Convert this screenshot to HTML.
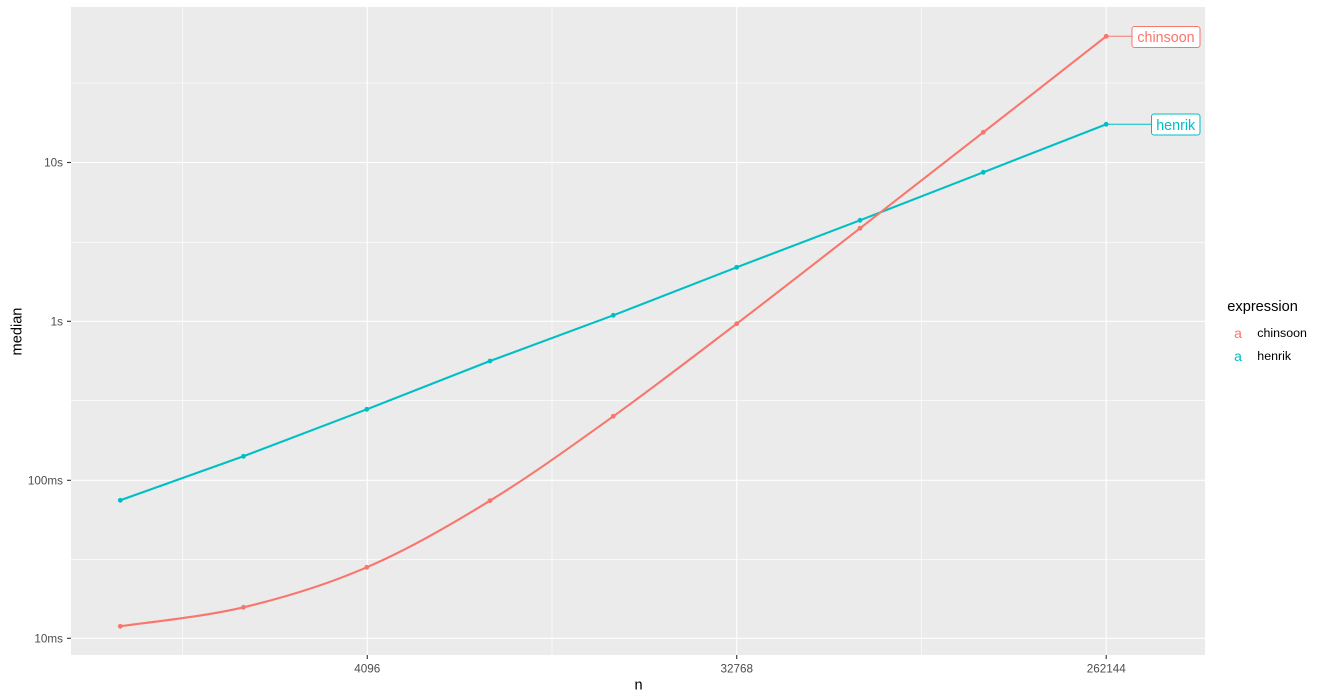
<!DOCTYPE html>
<html><head><meta charset="utf-8"><style>
html,body{margin:0;padding:0;background:#fff;}
svg{display:block;}
text{font-family:"Liberation Sans",Arial,sans-serif;}
</style></head><body>
<svg width="1323" height="700" viewBox="0 0 1323 700" xmlns="http://www.w3.org/2000/svg">
<rect x="0" y="0" width="1323" height="700" fill="#fff"/>
<!-- panel -->
<rect x="71" y="7" width="1134" height="648" fill="#EBEBEB"/>
<!-- minor grid -->
<g stroke="#fff" stroke-width="0.6">
<line x1="71" x2="1205" y1="83" y2="83"/>
<line x1="71" x2="1205" y1="242.3" y2="242.3"/>
<line x1="71" x2="1205" y1="400.3" y2="400.3"/>
<line x1="71" x2="1205" y1="559.3" y2="559.3"/>
<line x1="182.3" x2="182.3" y1="7" y2="655"/>
<line x1="552" x2="552" y1="7" y2="655"/>
<line x1="921.5" x2="921.5" y1="7" y2="655"/>
</g>
<!-- major grid -->
<g stroke="#fff" stroke-width="1.1">
<line x1="71" x2="1205" y1="162.5" y2="162.5"/>
<line x1="71" x2="1205" y1="321.3" y2="321.3"/>
<line x1="71" x2="1205" y1="480.3" y2="480.3"/>
<line x1="71" x2="1205" y1="638.3" y2="638.3"/>
<line x1="367.3" x2="367.3" y1="7" y2="655"/>
<line x1="736.7" x2="736.7" y1="7" y2="655"/>
<line x1="1106.2" x2="1106.2" y1="7" y2="655"/>
</g>
<!-- henrik -->
<polyline fill="none" stroke="#00BFC4" stroke-width="2.1" stroke-linejoin="round"
 points="120.3,500.3 243.5,456.3 366.8,409.3 490,361 613.3,315.3 736.7,267.3 860,220.3 983.3,172.3 1106.2,124.3"/>
<!-- chinsoon -->
<path fill="none" stroke="#F8766D" stroke-width="2.1" stroke-linejoin="round"
 d="M120.3,626.3 C140.8,623.1 202.4,617.1 243.5,607.3 C284.6,597.5 325.7,585.1 366.8,567.3 C407.9,549.5 448.9,525.9 490,500.7 C531.1,475.5 572.2,445.8 613.3,416.3 C654.4,386.8 695.6,355 736.7,323.7 C777.8,292.4 818.9,260.2 860,228.3 C901.1,196.4 942.2,164.3 983.3,132.3 C1024.4,100.3 1086,52.3 1106.2,36.3"/>
<!-- points -->
<g fill="#F8766D">
<circle cx="120.3" cy="626.3" r="2.4"/><circle cx="243.5" cy="607.3" r="2.4"/><circle cx="366.8" cy="567.3" r="2.4"/>
<circle cx="490" cy="500.7" r="2.4"/><circle cx="613.3" cy="416.3" r="2.4"/><circle cx="736.7" cy="323.7" r="2.4"/>
<circle cx="860" cy="228.3" r="2.4"/><circle cx="983.3" cy="132.3" r="2.4"/><circle cx="1106.2" cy="36.3" r="2.4"/>
</g>
<g fill="#00BFC4">
<circle cx="120.3" cy="500.3" r="2.4"/><circle cx="243.5" cy="456.3" r="2.4"/><circle cx="366.8" cy="409.3" r="2.4"/>
<circle cx="490" cy="361" r="2.4"/><circle cx="613.3" cy="315.3" r="2.4"/><circle cx="736.7" cy="267.3" r="2.4"/>
<circle cx="860" cy="220.3" r="2.4"/><circle cx="983.3" cy="172.3" r="2.4"/><circle cx="1106.2" cy="124.3" r="2.4"/>
</g>
<!-- labels -->
<line x1="1106.2" y1="36.3" x2="1132" y2="36.3" stroke="#F8766D" stroke-width="1"/>
<rect x="1132" y="26.5" width="68" height="21" rx="2.5" fill="#fff" stroke="#F8766D" stroke-width="1"/>
<text x="1166" y="42" font-size="14.3" fill="#F8766D" text-anchor="middle">chinsoon</text>
<line x1="1106.2" y1="124.3" x2="1151.5" y2="124.3" stroke="#00BFC4" stroke-width="1"/>
<rect x="1151.5" y="114" width="48.5" height="21" rx="2.5" fill="#fff" stroke="#00BFC4" stroke-width="1"/>
<text x="1175.7" y="130" font-size="14.3" fill="#00BFC4" text-anchor="middle">henrik</text>
<!-- y axis ticks -->
<g stroke="#333" stroke-width="1.1">
<line x1="67" x2="71" y1="162.5" y2="162.5"/>
<line x1="67" x2="71" y1="321.3" y2="321.3"/>
<line x1="67" x2="71" y1="480.3" y2="480.3"/>
<line x1="67" x2="71" y1="638.3" y2="638.3"/>
<line x1="367.3" x2="367.3" y1="655" y2="659"/>
<line x1="736.7" x2="736.7" y1="655" y2="659"/>
<line x1="1106.2" x2="1106.2" y1="655" y2="659"/>
</g>
<g font-size="11.7" fill="#4D4D4D" text-anchor="end">
<text x="63" y="166.7">10s</text>
<text x="63" y="325.5">1s</text>
<text x="63" y="484.5">100ms</text>
<text x="63" y="642.5">10ms</text>
</g>
<g font-size="11.7" fill="#4D4D4D" text-anchor="middle">
<text x="367.3" y="672.7">4096</text>
<text x="736.7" y="672.7">32768</text>
<text x="1106.2" y="672.7">262144</text>
</g>
<text x="638.5" y="689.5" font-size="14.6" fill="#000" text-anchor="middle">n</text>
<text transform="translate(21.5,331.5) rotate(-90)" font-size="14.6" fill="#000" text-anchor="middle">median</text>
<!-- legend -->
<text x="1227.3" y="311" font-size="14.6" fill="#000">expression</text>
<text x="1238" y="338" font-size="14" fill="#F8766D" text-anchor="middle">a</text>
<text x="1238" y="361" font-size="14" fill="#00BFC4" text-anchor="middle">a</text>
<text x="1257.3" y="337" font-size="12.4" fill="#000">chinsoon</text>
<text x="1257.3" y="360" font-size="12.4" fill="#000">henrik</text>
</svg>
</body></html>
